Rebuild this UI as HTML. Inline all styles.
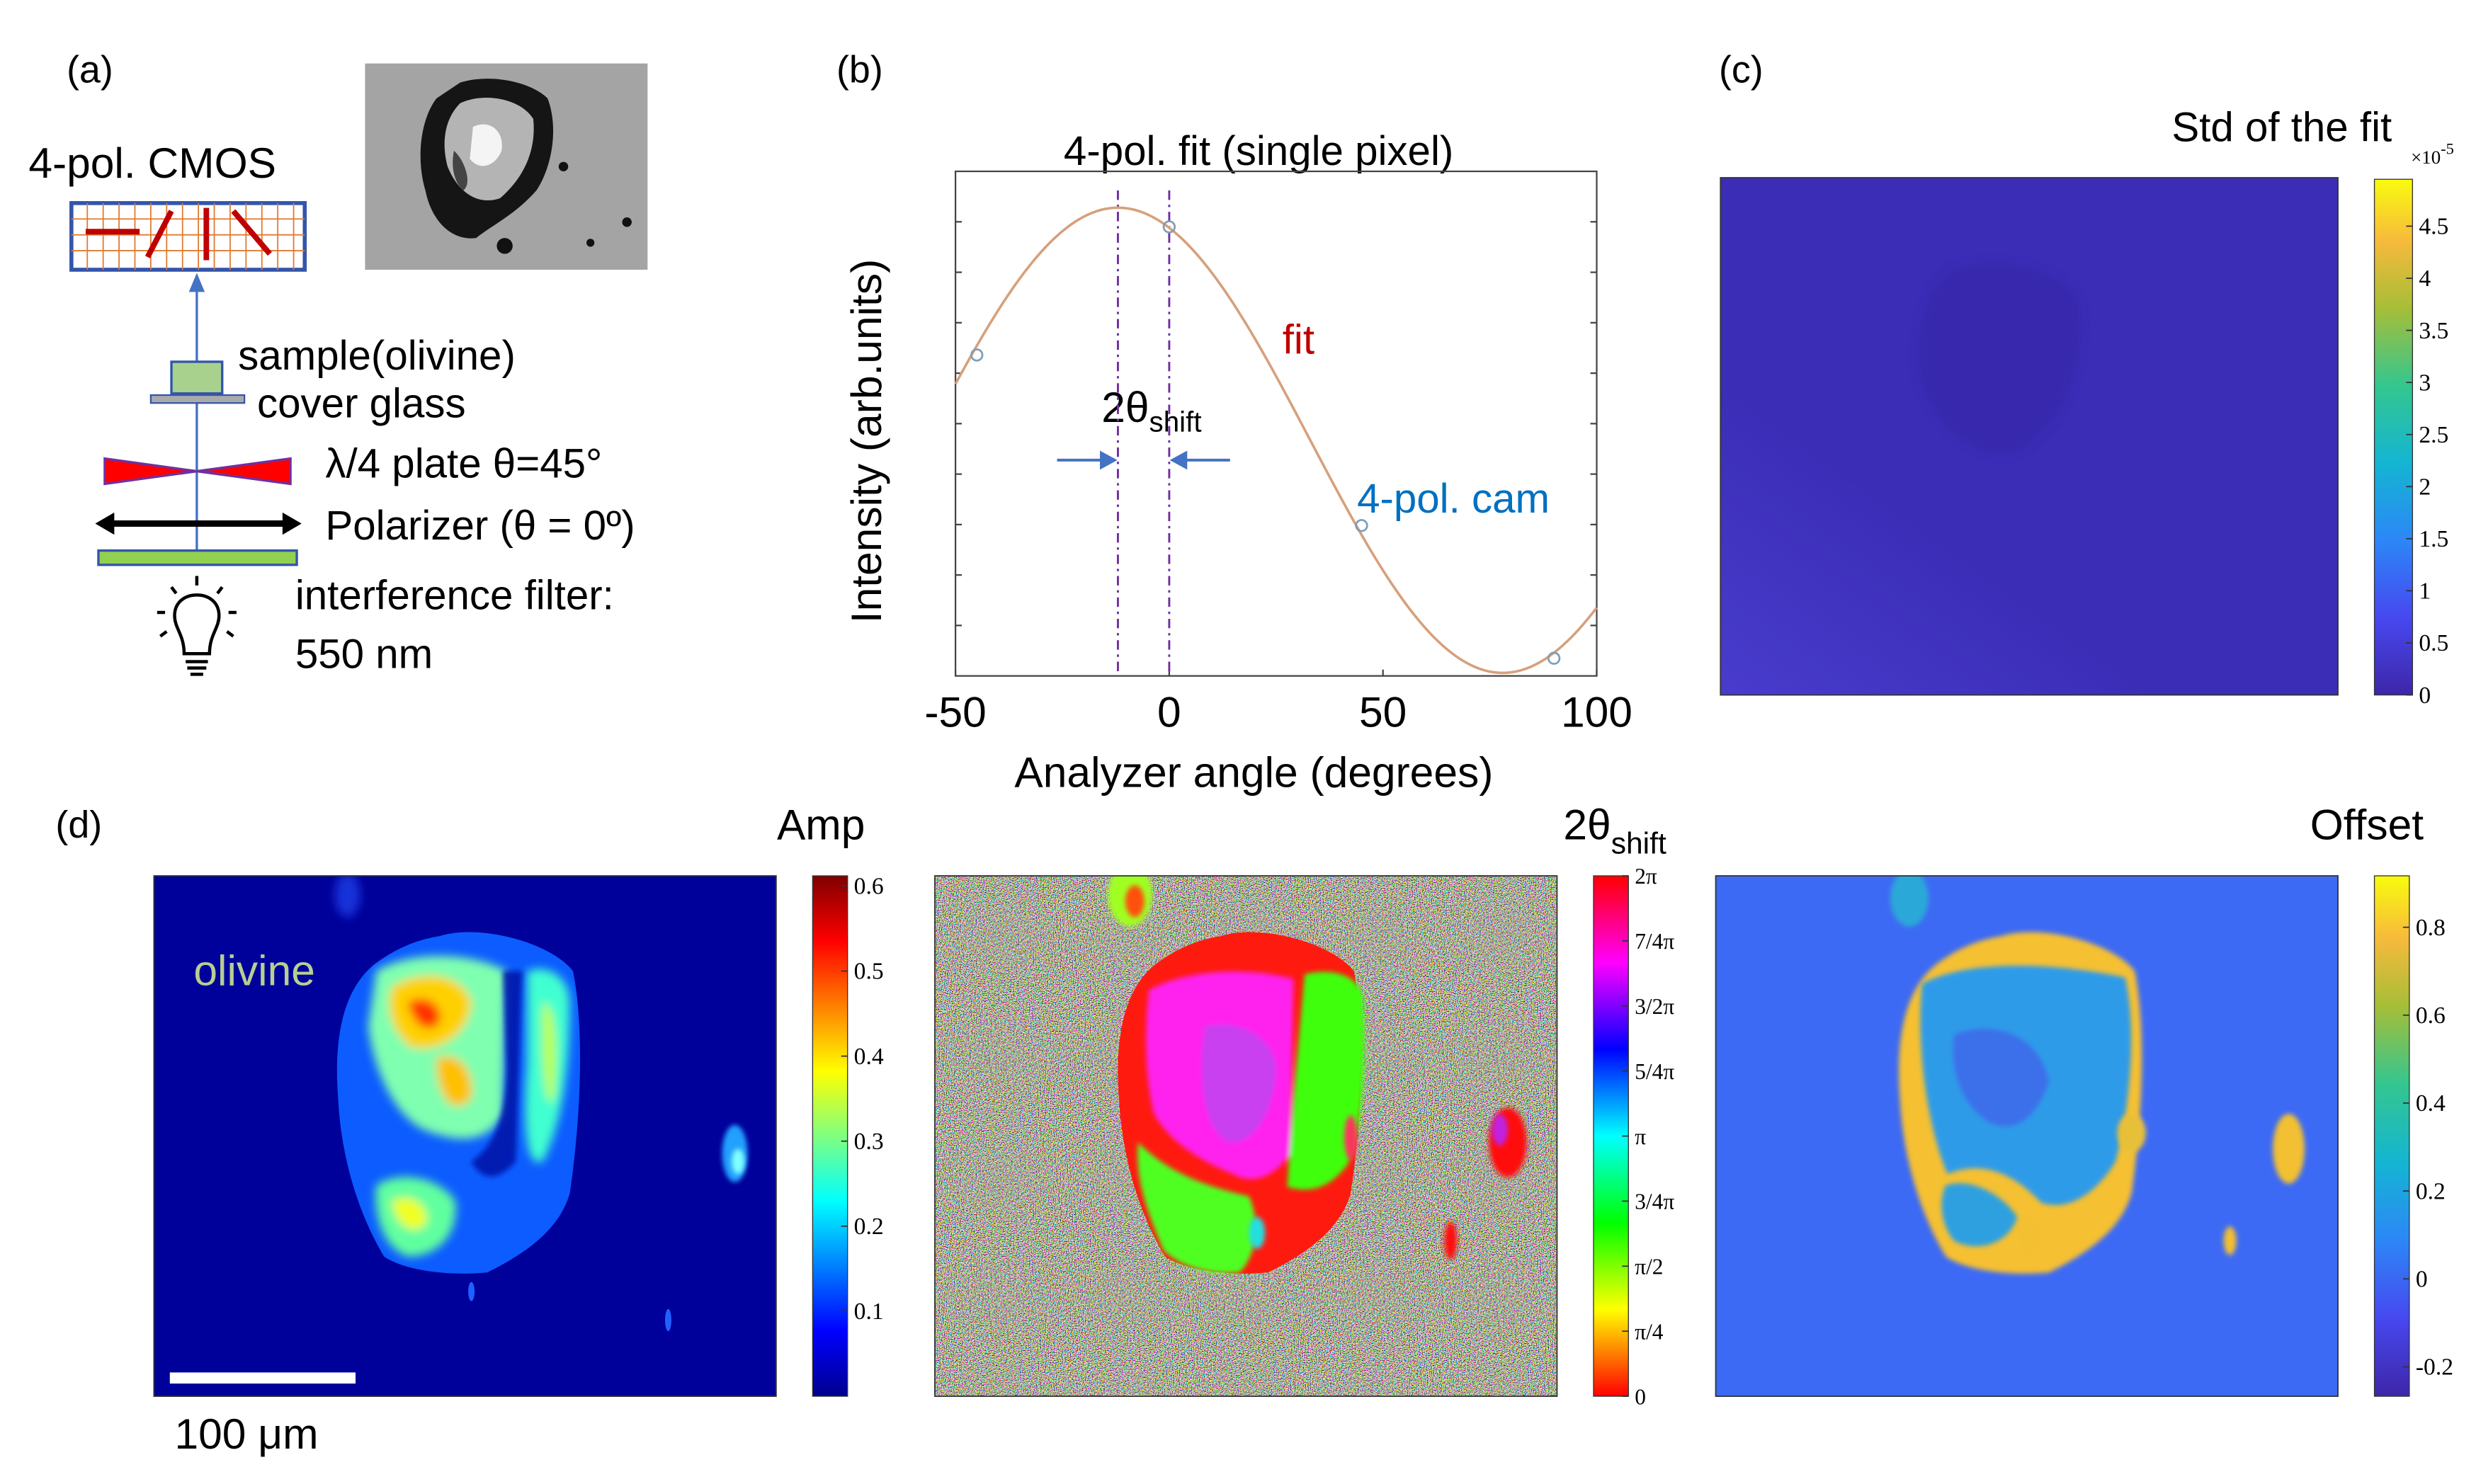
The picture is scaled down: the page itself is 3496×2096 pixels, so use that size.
<!DOCTYPE html>
<html><head><meta charset="utf-8"><style>
html,body{margin:0;padding:0;background:#fff;}
svg{display:block;}
.s{font-family:"Liberation Sans",sans-serif;}
.r{font-family:"Liberation Serif",serif;}
</style></head><body>
<svg id="fig" width="3496" height="2096" viewBox="0 0 1560 935.3" preserveAspectRatio="none" xmlns="http://www.w3.org/2000/svg">
<defs>
<linearGradient id="jet" x1="0" y1="1" x2="0" y2="0">
<stop offset="0" stop-color="#00008f"/><stop offset="0.125" stop-color="#0000ff"/><stop offset="0.375" stop-color="#00ffff"/><stop offset="0.625" stop-color="#ffff00"/><stop offset="0.875" stop-color="#ff0000"/><stop offset="1" stop-color="#800000"/>
</linearGradient>
<linearGradient id="hsv" x1="0" y1="1" x2="0" y2="0">
<stop offset="0" stop-color="#ff0000"/><stop offset="0.167" stop-color="#ffff00"/><stop offset="0.333" stop-color="#00ff00"/><stop offset="0.5" stop-color="#00ffff"/><stop offset="0.667" stop-color="#0000ff"/><stop offset="0.833" stop-color="#ff00ff"/><stop offset="1" stop-color="#ff0000"/>
</linearGradient>
<linearGradient id="parula" x1="0" y1="1" x2="0" y2="0">
<stop offset="0" stop-color="#3e26a8"/><stop offset="0.15" stop-color="#4748f0"/><stop offset="0.3" stop-color="#2c87f7"/><stop offset="0.45" stop-color="#14b5d2"/><stop offset="0.6" stop-color="#34c68f"/><stop offset="0.75" stop-color="#a6be37"/><stop offset="0.88" stop-color="#f7ba3c"/><stop offset="1" stop-color="#f9fb0e"/>
</linearGradient>
<linearGradient id="stdGrad" x1="0" y1="1" x2="0.6" y2="0.3">
<stop offset="0" stop-color="#4a3ed0" stop-opacity="0.9"/><stop offset="0.5" stop-color="#4a3ed0" stop-opacity="0"/>
</linearGradient>
<filter id="noise" x="0" y="0" width="100%" height="100%">
<feTurbulence type="fractalNoise" baseFrequency="1.6" numOctaves="1" seed="3"/>
<feColorMatrix type="matrix" values="3.2 0 0 0 -1.12  0 3.2 0 0 -1.12  0 0 3.2 0 -1.2  0 0 0 0 1"/>
</filter>
<filter id="bl" x="-50%" y="-50%" width="200%" height="200%"><feGaussianBlur stdDeviation="3"/></filter>
<filter id="bl2" x="-50%" y="-50%" width="200%" height="200%"><feGaussianBlur stdDeviation="1.5"/></filter>
<path id="blob" d="M180 38 C205 30 250 42 264 60 C272 100 268 160 262 200 C255 225 230 240 210 250 C190 252 160 250 145 240 C130 215 118 180 116 140 C113 100 120 70 140 55 C155 44 168 40 180 38 Z"/>
<clipPath id="clipA"><rect x="0" y="0" width="392" height="328"/></clipPath>
</defs>

<!-- (a) -->
<g>
<text class="s" x="42" y="52" font-size="24">(a)</text>
<g>
<rect x="230" y="40" width="178" height="130" fill="#a4a4a4"/>
<path d="M290 52 C310 46 335 52 345 62 C352 80 348 105 338 120 C325 135 310 142 300 150 C285 152 272 140 268 120 C262 100 265 75 275 62 Z" fill="#151515"/>
<path d="M290 65 C305 58 328 62 336 75 C338 95 330 112 315 125 C300 130 288 120 282 105 C278 90 280 75 290 65 Z" fill="#d0d0d0" opacity="0.85"/>
<path d="M298 80 C308 75 318 82 316 95 C312 105 302 108 296 100 Z" fill="#f4f4f4"/>
<path d="M286 95 C292 100 298 115 292 120 C286 115 284 105 286 95Z" fill="#444"/>
<circle cx="318" cy="155" r="5" fill="#111"/><circle cx="395" cy="140" r="3" fill="#111"/><circle cx="372" cy="153" r="2.5" fill="#111"/><circle cx="355" cy="105" r="3" fill="#111"/>
</g>
<text class="s" x="18" y="112" font-size="27">4-pol. CMOS</text>
<g>
<rect x="45" y="128" width="147" height="42" fill="#fff" stroke="#3355aa" stroke-width="2.5"/>
<g stroke="#e07a30" stroke-width="0.8">
<line x1="45" y1="138" x2="192" y2="138"/><line x1="45" y1="148" x2="192" y2="148"/><line x1="45" y1="158" x2="192" y2="158"/>
<line x1="55" y1="128" x2="55" y2="170"/><line x1="65" y1="128" x2="65" y2="170"/><line x1="75" y1="128" x2="75" y2="170"/><line x1="85" y1="128" x2="85" y2="170"/><line x1="95" y1="128" x2="95" y2="170"/><line x1="105" y1="128" x2="105" y2="170"/><line x1="115" y1="128" x2="115" y2="170"/><line x1="125" y1="128" x2="125" y2="170"/><line x1="135" y1="128" x2="135" y2="170"/><line x1="145" y1="128" x2="145" y2="170"/><line x1="155" y1="128" x2="155" y2="170"/><line x1="165" y1="128" x2="165" y2="170"/><line x1="175" y1="128" x2="175" y2="170"/><line x1="185" y1="128" x2="185" y2="170"/>
</g>
<g stroke="#c00000" stroke-width="3.5">
<line x1="54" y1="146" x2="88" y2="146"/><line x1="93" y1="162" x2="108" y2="133"/><line x1="130" y1="131" x2="130" y2="164"/><line x1="147" y1="133" x2="170" y2="160"/>
</g>
</g>
<g>
<line x1="124" y1="352" x2="124" y2="180" stroke="#4472c4" stroke-width="1.5"/>
<polygon points="124,172 119,184 129,184" fill="#4472c4"/>
</g>
<rect x="108" y="228" width="32" height="20" fill="#a9d18e" stroke="#3355aa" stroke-width="1.5"/>
<rect x="95" y="249" width="59" height="5" fill="#aaa" stroke="#3355aa" stroke-width="1"/>
<text class="s" x="150" y="233" font-size="26">sample(olivine)</text>
<text class="s" x="162" y="263" font-size="26">cover glass</text>
<polygon points="66,289 124,297 66,305" fill="#ff0000" stroke="#7030a0" stroke-width="1.5"/>
<polygon points="183,289 124,297 183,305" fill="#ff0000" stroke="#7030a0" stroke-width="1.5"/>
<text class="s" x="205" y="301" font-size="26">λ/4 plate θ=45°</text>
<g>
<line x1="70" y1="330" x2="180" y2="330" stroke="#000" stroke-width="4"/>
<polygon points="60,330 72,323 72,337" fill="#000"/><polygon points="190,330 178,323 178,337" fill="#000"/>
</g>
<text class="s" x="205" y="340" font-size="26">Polarizer (θ = 0º)</text>
<rect x="62" y="347" width="125" height="9" fill="#92d050" stroke="#3355aa" stroke-width="1.5"/>
<g stroke="#000" fill="none" stroke-width="2">
<path d="M116 412 C116 400 110 396 110 388 C110 380 116 375 124 375 C132 375 138 380 138 388 C138 396 132 400 132 412 Z"/>
<line x1="117" y1="417" x2="131" y2="417"/><line x1="118" y1="421" x2="130" y2="421"/><line x1="120" y1="425" x2="128" y2="425"/>
<line x1="124" y1="363" x2="124" y2="369"/><line x1="108" y1="370" x2="111" y2="374"/><line x1="140" y1="370" x2="137" y2="374"/>
<line x1="99" y1="386" x2="104" y2="386"/><line x1="144" y1="386" x2="149" y2="386"/><line x1="101" y1="401" x2="105" y2="398"/><line x1="147" y1="401" x2="143" y2="398"/>
</g>
<text class="s" x="186" y="384" font-size="26">interference filter:</text>
<text class="s" x="186" y="421" font-size="26">550 nm</text>
</g>

<!-- (b) -->
<g id="chartB">
<text class="s" x="527" y="52" font-size="24">(b)</text>
<text class="s" x="793" y="104" font-size="26" text-anchor="middle">4-pol. fit (single pixel)</text>
<rect x="602" y="108" width="404" height="318" fill="none" stroke="#444" stroke-width="1"/>
<text class="s" font-size="27" text-anchor="middle" transform="translate(555 278) rotate(-90)">Intensity (arb.units)</text>
<text class="s" x="790" y="496" font-size="27" text-anchor="middle">Analyzer angle (degrees)</text>
<text class="s" x="808" y="223" font-size="26" fill="#c00000">fit</text>
<text class="s" x="855" y="323" font-size="26" fill="#0070c0">4-pol. cam</text>
<text class="s" x="694" y="266" font-size="27">2θ<tspan font-size="18" dy="6">shift</tspan></text>
<g stroke="#4472c4" stroke-width="1.8" fill="#4472c4">
<line x1="666" y1="290" x2="700" y2="290"/><polygon points="704,290 693,284 693,296" stroke="none"/>
<line x1="775" y1="290" x2="741" y2="290"/><polygon points="737,290 748,284 748,296" stroke="none"/>
</g>
<g id="bMarks"></g>
</g>

<!-- (c) -->
<g>
<text class="s" x="1083" y="52" font-size="24">(c)</text>
<text class="s" x="1507" y="89" font-size="26" text-anchor="end">Std of the fit</text>
<rect x="1084" y="112" width="389" height="326" fill="#3b2db6"/>
<rect x="1084" y="112" width="389" height="326" fill="url(#stdGrad)"/>
<path d="M1230 170 C1260 160 1300 170 1310 190 C1315 230 1300 270 1270 285 C1245 290 1220 270 1210 240 C1205 205 1215 180 1230 170 Z" fill="#3628a8" opacity="0.6" filter="url(#bl)"/>
<rect x="1084" y="112" width="389" height="326" fill="none" stroke="#333" stroke-width="0.8"/>
<rect x="1496" y="113" width="24" height="325" fill="url(#parula)" stroke="#333" stroke-width="0.6"/>
<text class="r" x="1519" y="103" font-size="12">×10<tspan dy="-6" font-size="10">-5</tspan></text>
<g id="cTicks"></g>
</g>

<!-- (d) -->
<text class="s" x="35" y="528" font-size="24">(d)</text>
<text class="s" x="545" y="529" font-size="27" text-anchor="end">Amp</text>
<text class="s" x="985" y="529" font-size="27">2θ<tspan font-size="19" dy="9">shift</tspan></text>
<text class="s" x="1527" y="529" font-size="27" text-anchor="end">Offset</text>

<g transform="translate(97 552)" clip-path="url(#clipA)">
<rect width="392" height="328" fill="#00009a"/>
<ellipse cx="122" cy="12" rx="8" ry="14" fill="#1530d8" filter="url(#bl)"/>
<use href="#blob" fill="#0c5cff"/>
<g filter="url(#bl)">
<path d="M140 60 C165 45 205 50 222 60 L220 150 C210 170 190 168 170 160 C150 150 138 120 135 95 Z" fill="#7fffb0"/>
<path d="M150 70 C170 58 195 62 200 80 C198 100 180 112 162 108 C150 98 146 85 150 70 Z" fill="#ffd000"/>
<path d="M160 80 C170 74 182 80 180 92 C174 100 164 96 160 80Z" fill="#ff3000"/>
<path d="M178 115 C192 110 202 122 200 140 C190 152 178 142 178 115 Z" fill="#ffc000"/>
<path d="M235 60 C250 55 262 65 262 80 C262 130 255 160 245 180 C235 185 232 160 235 120 Z" fill="#40ffd0"/>
<path d="M245 80 C252 80 255 100 252 140 C248 150 244 130 245 80Z" fill="#c0ff40"/>
<path d="M140 195 C155 185 180 190 190 205 C192 225 180 240 160 240 C145 235 138 215 140 195 Z" fill="#60ffa0"/>
<path d="M150 205 C160 200 172 205 172 218 C165 228 152 222 150 205Z" fill="#f0ff20"/>
</g>
<path d="M220 60 L232 60 L228 180 C215 195 205 190 200 180 C215 170 222 150 222 120 Z" fill="#0010a0" opacity="0.8" filter="url(#bl2)"/>
<ellipse cx="366" cy="175" rx="8" ry="18" fill="#20a0ff" filter="url(#bl2)"/>
<ellipse cx="368" cy="180" rx="4" ry="8" fill="#80ffff" filter="url(#bl2)"/>
<ellipse cx="200" cy="262" rx="2" ry="6" fill="#2060ff"/>
<ellipse cx="324" cy="280" rx="2" ry="7" fill="#2060ff"/>
<rect x="10" y="313" width="117" height="7" fill="#fff"/>
</g>
<text class="s" x="122" y="621" font-size="27" fill="#b7cf90">olivine</text>
<text class="s" x="110" y="913" font-size="27">100 μm</text>
<rect x="97" y="552" width="392" height="328" fill="none" stroke="#333" stroke-width="0.8"/>
<rect x="512" y="552" width="22" height="328" fill="url(#jet)" stroke="#333" stroke-width="0.6"/>
<g id="ampTicks"></g>

<g transform="translate(589 552)" clip-path="url(#clipA)">
<rect width="392" height="328" fill="#8a887c"/>
<rect width="392" height="328" filter="url(#noise)"/>
<ellipse cx="123" cy="12" rx="14" ry="20" fill="#a0ff20" filter="url(#bl2)"/>
<ellipse cx="126" cy="16" rx="6" ry="10" fill="#ff5010" filter="url(#bl2)"/>
<use href="#blob" fill="#ff1a10"/>
<g filter="url(#bl2)">
<path d="M135 72 C160 58 200 58 226 65 L224 175 C214 190 200 195 188 188 C168 180 148 168 138 150 C132 125 132 95 135 72 Z" fill="#ff22ee"/>
<path d="M170 95 C190 90 212 100 215 120 C214 150 200 170 185 168 C170 160 165 130 170 95 Z" fill="#c840f0"/>
<path d="M233 62 C250 58 266 62 270 76 C272 120 270 160 260 182 C248 198 235 200 222 196 L226 140 Z" fill="#40ff10"/>
<path d="M128 168 C148 188 172 196 198 202 C206 220 202 240 192 250 C172 252 154 246 144 236 C134 212 126 192 128 168 Z" fill="#50ff20"/>
</g>
<ellipse cx="361" cy="168" rx="12" ry="22" fill="#ff1010" filter="url(#bl2)"/>
<ellipse cx="356" cy="160" rx="5" ry="10" fill="#c020e0" filter="url(#bl2)"/>
<ellipse cx="325" cy="230" rx="4" ry="12" fill="#ff1010" filter="url(#bl2)"/>
<ellipse cx="203" cy="225" rx="5" ry="10" fill="#20e0e0" filter="url(#bl2)"/>
<ellipse cx="262" cy="165" rx="4" ry="14" fill="#ff3060" filter="url(#bl2)"/>
</g>
<rect x="589" y="552" width="392" height="328" fill="none" stroke="#333" stroke-width="0.8"/>
<rect x="1004" y="552" width="22" height="328" fill="url(#hsv)" stroke="#333" stroke-width="0.6"/>
<g id="shiftTicks"></g>

<g transform="translate(1081 552)" clip-path="url(#clipA)">
<rect width="392" height="328" fill="#3d6af4"/>
<ellipse cx="122" cy="14" rx="12" ry="18" fill="#2aa8d8" filter="url(#bl2)"/>
<use href="#blob" fill="#f5c030" filter="url(#bl2)"/>
<g filter="url(#bl2)">
<path d="M130 68 C160 52 215 55 258 64 C266 100 260 150 252 180 C240 200 222 212 205 206 C190 190 170 178 146 188 C134 160 126 110 130 68 Z" fill="#2f9be8"/>
<path d="M150 100 C175 90 205 100 210 130 C200 160 180 165 165 150 C150 135 148 115 150 100Z" fill="#3a70ea"/>
<path d="M145 195 C160 190 180 200 190 215 C185 232 165 238 150 230 C142 220 140 205 145 195 Z" fill="#2fa0e0"/>
</g>
<ellipse cx="361" cy="172" rx="10" ry="22" fill="#f2c030" filter="url(#bl2)"/>
<ellipse cx="198" cy="227" rx="5" ry="9" fill="#f2c030" filter="url(#bl2)"/>
<ellipse cx="324" cy="230" rx="4" ry="9" fill="#f2c030" filter="url(#bl2)"/>
<ellipse cx="262" cy="162" rx="9" ry="12" fill="#e8c038" filter="url(#bl2)"/>
</g>
<rect x="1081" y="552" width="392" height="328" fill="none" stroke="#333" stroke-width="0.8"/>
<rect x="1496" y="552" width="22" height="328" fill="url(#parula)" stroke="#333" stroke-width="0.6"/>
<g id="offTicks"></g>
</svg>
<script>
// chart (b) data
const xTickValues = [-50, 0, 50, 100];
const yTickValues = [0.1, 0.2, 0.3, 0.4, 0.5, 0.6, 0.7, 0.8, 0.9];
const camAngles = [-45, 0, 45, 90];
const camValues = [0.636, 0.890, 0.298, 0.035];
const fitOffset = [0.467];
const fitAmplitude = [0.461];
const fitPeakAngle = [-12];
const shiftLineAngles = [-12, 0];
// colorbar data
const stdTicks = [0, 0.5, 1, 1.5, 2, 2.5, 3, 3.5, 4, 4.5];
const ampTicks = [0.1, 0.2, 0.3, 0.4, 0.5, 0.6];
const shiftTickLabels = ["0", "π/4", "π/2", "3/4π", "π", "5/4π", "3/2π", "7/4π", "2π"];
const shiftTickValues = [0, 0.25, 0.5, 0.75, 1, 1.25, 1.5, 1.75, 2];
const offsetTicks = [-0.2, 0, 0.2, 0.4, 0.6, 0.8];

const NS = "http://www.w3.org/2000/svg";
function mk(tag, attrs, parent) {
  const e = document.createElementNS(NS, tag);
  for (const k in attrs) e.setAttribute(k, attrs[k]);
  parent.appendChild(e);
  return e;
}
const bx = v => 602 + (v + 50) / 150 * 404;
const by = v => 426 - v * 318;
const bm = document.getElementById('bMarks');

yTickValues.forEach(v => {
  const t = mk('line', {x1: 602, x2: 606, y1: by(v), y2: by(v), stroke: '#444', 'stroke-width': 1}, bm);
  
  
  const t2 = mk('line', {x1: 1002, x2: 1006, y1: by(v), y2: by(v), stroke: '#444', 'stroke-width': 1}, bm);
  
  
});
xTickValues.forEach(v => {
  const t = mk('line', {x1: bx(v), x2: bx(v), y1: 426, y2: 422, stroke: '#444'}, bm);
  
  
  const l = mk('text', {x: bx(v), y: 458, 'font-size': 27, 'text-anchor': 'middle', class: 's'}, bm);
  l.textContent = String(v);
  
  
});
shiftLineAngles.forEach(a => {
  const l = mk('line', {x1: bx(a), x2: bx(a), y1: 120, y2: 426, stroke: '#7030a0', 'stroke-width': 1.3, 'stroke-dasharray': '6 3 1.5 3'}, bm);
  
  
});
let d = '';
for (let a = -50; a <= 100; a += 1) {
  const v = fitOffset[0] + fitAmplitude[0] * Math.cos(2 * (a - fitPeakAngle[0]) * Math.PI / 180);
  d += (a === -50 ? 'M' : 'L') + bx(a).toFixed(2) + ' ' + by(v).toFixed(2);
}
const fit = mk('path', {d: d, fill: 'none', stroke: '#d6a07c', 'stroke-width': 1.6}, bm);


camAngles.forEach((a, i) => {
  const c = mk('circle', {cx: bx(a), cy: by(camValues[i]), r: 3.5, fill: 'none', stroke: '#7f9db5', 'stroke-width': 1.2}, bm);
  
  
});

function colorbar(id, x, y0, y1, vmin, vmax, vals, labels, size) {
  const g = document.getElementById(id);
  vals.forEach((v, i) => {
    const y = y1 - (v - vmin) / (vmax - vmin) * (y1 - y0);
    const t = mk('line', {x1: x - 4, x2: x, y1: y, y2: y, stroke: '#333', 'stroke-width': 0.8}, g);
    
    
    const l = mk('text', {x: x + 4, y: y + 5, 'font-size': size, class: 'r'}, g);
    l.textContent = labels[i];
    
    
  });
}
colorbar('cTicks', 1520, 113, 438, 0, 4.95, stdTicks, stdTicks.map(String), 15);
colorbar('ampTicks', 534, 552, 880, 0, 0.612, ampTicks, ampTicks.map(String), 15);
colorbar('shiftTicks', 1026, 552, 880, 0, 2, shiftTickValues, shiftTickLabels, 14);
colorbar('offTicks', 1518, 552, 880, -0.267, 0.917, offsetTicks, offsetTicks.map(String), 15);
</script>
</body></html>
